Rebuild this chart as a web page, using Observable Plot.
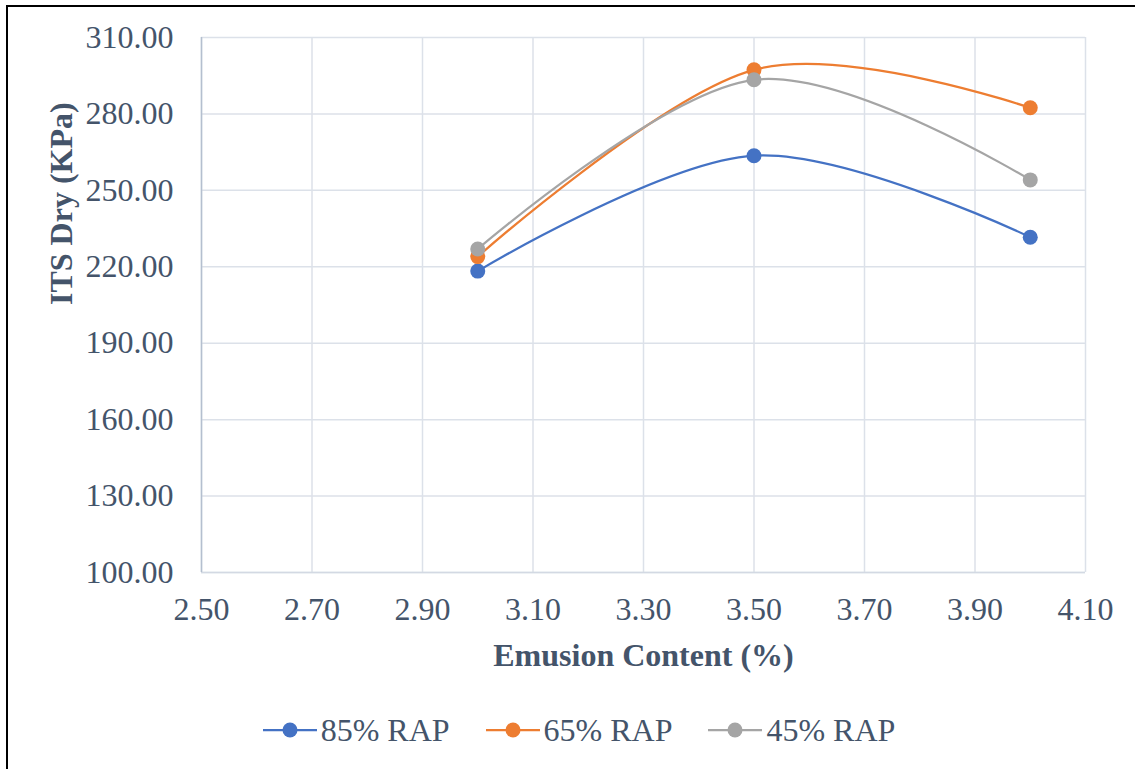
<!DOCTYPE html>
<html><head><meta charset="utf-8">
<script src="https://cdn.jsdelivr.net/npm/d3@7"></script>
<script src="https://cdn.jsdelivr.net/npm/@observablehq/plot@0.6"></script>
<style>
body{margin:0;background:#fff;overflow:hidden}
#wrap{position:relative;width:1135px;height:769px;overflow:hidden}
#chart{position:absolute;left:0;top:0}
#frame{position:absolute;left:6px;top:5px;width:1160px;height:800px;border:2px solid #000;box-sizing:border-box;pointer-events:none}
#legend{position:absolute;left:0;width:1158px;top:708px;display:flex;justify-content:center;gap:36px;font-family:"Liberation Serif","Times New Roman",serif;font-size:32px;color:#44546A;line-height:44px}
.item{display:flex;align-items:center;gap:4px}
</style></head><body>
<div id="wrap"><div id="chart"></div><div id="frame"></div><div id="legend"></div></div>
<script>
const emulsion = [3.0, 3.5, 4.0];
const series = ["85% RAP", "65% RAP", "45% RAP"];
const rap85 = [218.3, 263.6, 231.6];
const rap65 = [224.0, 297.3, 282.4];
const rap45 = [227.0, 293.4, 254.1];
const colors = ["#4472C4", "#ED7D31", "#A5A5A5"];
const xTicks = [2.5, 2.7, 2.9, 3.1, 3.3, 3.5, 3.7, 3.9, 4.1];
const yTicks = [100, 130, 160, 190, 220, 250, 280, 310];
const xTitle = "Emusion Content (%)";
const yTitle = "ITS Dry (KPa)";

const values = [rap85, rap65, rap45];
const data = [];
series.forEach((s, i) => emulsion.forEach((x, j) => data.push({series: s, x, y: values[i][j]})));

const ink = "#44546A";
const chart = Plot.plot({
  width: 1135,
  height: 769,
  marginLeft: 201,
  marginRight: 50,
  marginTop: 37,
  marginBottom: 197,
  style: {fontFamily: "'Liberation Serif', 'Times New Roman', serif", background: "transparent"},
  x: {domain: [2.5, 4.1]},
  y: {domain: [100, 310]},
  color: {domain: series, range: colors},
  marks: [
    Plot.gridX(xTicks, {stroke: "#DCE1E9", strokeOpacity: 1, strokeWidth: 1.5}),
    Plot.gridY(yTicks, {stroke: "#DCE1E9", strokeOpacity: 1, strokeWidth: 1.5}),
    Plot.ruleY([100], {stroke: "#D3D9E3", strokeWidth: 1.5}),
    Plot.ruleX([2.5], {stroke: "#B4BFCF", strokeWidth: 1.5}),
    Plot.axisX(xTicks, {tickSize: 0, tickPadding: 25, tickFormat: d3.format(".2f"), fontSize: 32, fill: ink, label: null}),
    Plot.axisY(yTicks, {tickSize: 0, tickPadding: 28, tickFormat: d3.format(".2f"), fontSize: 32, fill: ink, label: null}),
    Plot.line(data, {x: "x", y: "y", stroke: "series", curve: "cardinal", strokeWidth: 2.25}),
    Plot.dot(data, {x: "x", y: "y", fill: "series", r: 7.5}),
    Plot.text([xTitle], {text: d => d, frameAnchor: "bottom", dy: 93, fontSize: 32, fontWeight: "bold", fill: ink}),
    Plot.text([yTitle], {text: d => d, frameAnchor: "left", dx: -140, rotate: -90, fontSize: 32, fontWeight: "bold", fill: ink})
  ]
});
document.getElementById("chart").appendChild(chart);

const legend = document.getElementById("legend");
series.forEach((s, i) => {
  const item = document.createElement("div");
  item.className = "item";
  item.innerHTML = `<svg width="54" height="18"><line x1="0" x2="54" y1="9" y2="9" stroke="${colors[i]}" stroke-width="2.25"/><circle cx="27" cy="9" r="7.5" fill="${colors[i]}"/></svg><span>${s}</span>`;
  legend.appendChild(item);
});
</script>
</body></html>
